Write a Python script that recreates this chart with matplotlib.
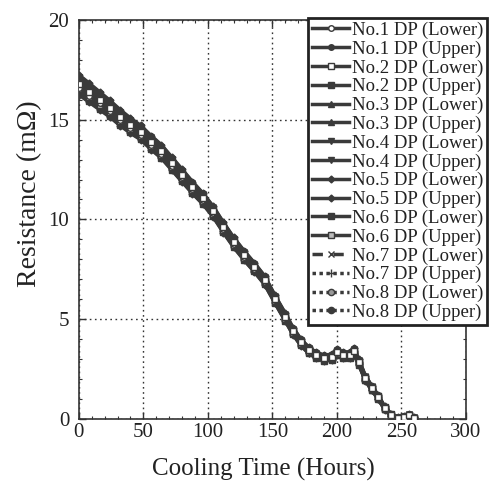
"""
Resistance of the 8 double pancakes (lower / upper) during cool-down.
"""

import numpy as np
import matplotlib.pyplot as plt
from matplotlib.ticker import MultipleLocator

# ===============================
# DATA
# ===============================
hours = [0, 8, 16, 24, 32, 40, 48, 56, 64, 72, 80, 88, 96, 104, 112, 120, 128,
         136, 144, 152, 160, 166, 172, 178, 184, 190, 196, 200, 205, 210, 213,
         217, 222, 227, 232, 237, 242, 247, 252, 256, 260]
# centre of the band of curves (mOhm)
resistance = [16.75, 16.35, 15.95, 15.55, 15.1, 14.7, 14.35, 13.85, 13.4, 12.8,
              12.2, 11.6, 11.05, 10.4, 9.6, 8.85, 8.2, 7.6, 6.95, 6.0, 5.1,
              4.4, 3.85, 3.45, 3.2, 3.05, 3.1, 3.35, 3.2, 3.2, 3.4, 2.85, 2.05,
              1.55, 1.1, 0.55, 0.2, 0.05, 0.1, 0.2, 0.05]
# half width of the band (mOhm)
spread = [0.5, 0.48, 0.45, 0.42, 0.4, 0.38, 0.36, 0.35, 0.34, 0.33, 0.32, 0.3,
          0.28, 0.27, 0.26, 0.25, 0.24, 0.23, 0.22, 0.2, 0.2, 0.18, 0.17, 0.16,
          0.15, 0.15, 0.15, 0.15, 0.15, 0.15, 0.15, 0.14, 0.13, 0.12, 0.1,
          0.08, 0.06, 0.05, 0.05, 0.05, 0.05]

labels = ["No.1 DP (Lower)", "No.1 DP (Upper)", "No.2 DP (Lower)", "No.2 DP (Upper)",
          "No.3 DP (Lower)", "No.3 DP (Upper)", "No.4 DP (Lower)", "No.4 DP (Upper)",
          "No.5 DP (Lower)", "No.5 DP (Upper)", "No.6 DP (Lower)", "No.6 DP (Upper)",
          "No.7 DP (Lower)", "No.7 DP (Upper)", "No.8 DP (Lower)", "No.8 DP (Upper)"]
# position of each DP inside the band (-1 = bottom edge, 1 = top edge)
dp_position = [-0.3, 0.9, 0.1, -0.9, 0.6, -0.6, 0.3, -0.1, 1.0, -1.0, 0.45,
               -0.45, 0.75, -0.75, 0.2, -0.2]

# ===============================
# STYLE
# ===============================
plt.rcParams['font.family'] = ['Liberation Serif', 'DejaVu Serif']
line_col = '#3a3a3a'
markers = ['o', 'o', 's', 's', '^', '^', 'v', 'v', 'D', 'D', 's', 's', 'x', '+', 'o', 'o']
faces = ['white', line_col, 'white', line_col, line_col, line_col, line_col, line_col,
         line_col, line_col, line_col, '#bbbbbb', line_col, line_col, '#999999', line_col]
styles = ['-'] * 12 + [(0, (3, 3)), (0, (1, 1)), (0, (1, 1)), (0, (1, 1))]
msizes = [4, 4, 4, 4, 4, 4, 4, 4, 3.5, 3.5, 4.5, 4.5, 5, 6, 4.5, 4.5]

fig = plt.figure(figsize=(4.93, 4.82), dpi=100)
ax = fig.add_axes([0.160, 0.1307, 0.785, 0.828])

h = np.array(hours)
r = np.array(resistance)
s = np.array(spread)
# draw the filled-marker curves first so the open markers stay visible on top
order = [1, 3, 4, 5, 6, 7, 8, 9, 10, 12, 13, 15, 14, 11, 0, 2]
for i in order:
    ax.plot(h, r + dp_position[i] * s, linestyle=styles[i], color=line_col, lw=2.5,
            marker=markers[i], ms=msizes[i], mfc=faces[i], mec=line_col, mew=1,
            label=labels[i], zorder=3 + order.index(i) * 0.01)

ax.set_xlim(0, 300)
ax.set_ylim(0, 20)
ax.xaxis.set_major_locator(MultipleLocator(50))
ax.xaxis.set_minor_locator(MultipleLocator(10))
ax.yaxis.set_major_locator(MultipleLocator(5))
ax.yaxis.set_minor_locator(MultipleLocator(1))
ax.tick_params(which='both', direction='in', top=True, right=True, colors='#333333',
               labelcolor='#222222', labelsize=15)
ax.tick_params(which='major', length=5, width=1)
ax.tick_params(which='minor', length=2.5, width=0.8)
ax.tick_params(axis='x', pad=3)
ax.tick_params(axis='y', pad=7)
for sp in ax.spines.values():
    sp.set_color('#333333')
    sp.set_linewidth(1.2)
ax.grid(which='major', color='#333333', linestyle=(0, (1.2, 2.5)), linewidth=1)

ax.set_xlabel("Cooling Time (Hours)", fontsize=18, color='#222222')
ax.xaxis.set_label_coords(0.477, -0.098)
ax.set_ylabel("Resistance (mΩ)", fontsize=20, color='#222222')
ax.yaxis.set_label_coords(-0.095, 0.565)

# legend in the original DP order
handles, labs = ax.get_legend_handles_labels()
by_label = dict(zip(labs, handles))
leg = ax.legend([by_label[l] for l in labels], labels,
                loc='upper left', bbox_to_anchor=(0.625, 0.963),
                bbox_transform=fig.transFigure, fontsize=13.5, frameon=True,
                fancybox=False, framealpha=1, edgecolor='#222222',
                borderpad=0.2, labelspacing=0.08, handlelength=2.0,
                handletextpad=0.15, borderaxespad=0)
leg.get_frame().set_linewidth(2)
for t in leg.get_texts():
    t.set_color('#222222')

fig.savefig("out.png", dpi=100)
